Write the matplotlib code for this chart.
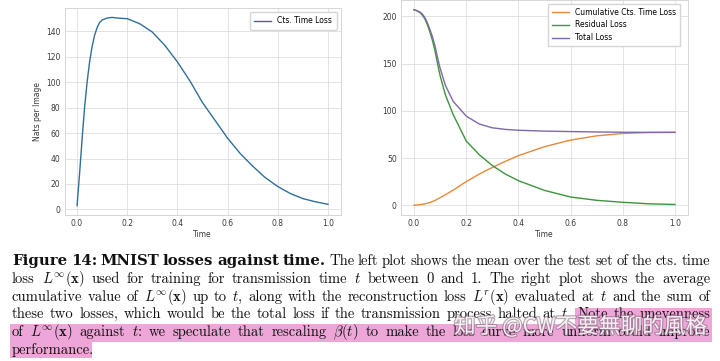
import numpy as np
import matplotlib
matplotlib.use("Agg")
import matplotlib.pyplot as plt
import matplotlib.patheffects as pe
from matplotlib.patches import Rectangle

# ---------------- data ----------------
t_left = [0.0, 0.01, 0.02, 0.03, 0.04, 0.05, 0.06, 0.07, 0.08, 0.09, 0.10, 0.12,
          0.14, 0.16, 0.18, 0.20, 0.25, 0.30, 0.35, 0.40, 0.45, 0.50, 0.55, 0.60,
          0.65, 0.70, 0.75, 0.80, 0.85, 0.90, 0.95, 1.0]
cts_loss = [3, 28, 55, 80, 100, 116, 128, 137, 143, 147, 149, 150.5,
            151, 150.5, 150.2, 150, 146, 139.5, 129, 116, 101, 84, 70, 56,
            44, 34, 25, 18, 12.5, 8.5, 6, 4]

t_right = [0.0, 0.01, 0.02, 0.03, 0.04, 0.05, 0.06, 0.07, 0.08, 0.09, 0.10, 0.12,
           0.15, 0.20, 0.25, 0.30, 0.35, 0.40, 0.50, 0.60, 0.70, 0.80, 0.90, 1.0]
cumulative = [0, 0.2, 0.5, 0.9, 1.4, 2, 2.8, 3.8, 5, 6.5, 8, 11,
              16, 25, 33, 40, 46.5, 52.5, 62, 69, 73.5, 76, 77, 77.3]
residual = [207, 206, 204.5, 202, 198, 192, 184, 175, 164, 150, 137, 117,
            96, 68, 53.5, 42, 33, 26, 15.7, 8.7, 5.2, 3.1, 1.5, 0.8]
total = [207, 206.2, 205, 203, 199.4, 194, 186.8, 178.8, 169, 156.5, 145, 127,
         110, 94.4, 86, 82, 80.3, 79.4, 78.5, 78, 77.6, 77.3, 77.2, 77.1]

left_legend = ["Cts. Time Loss"]
right_legend = ["Cumulative Cts. Time Loss", "Residual Loss", "Total Loss"]
xlabel = "Time"
ylabel_left = "Nats per Image"

caption_lines = [
    [("Figure", "b"), ("14:", "b"), ("MNIST", "b"), ("losses", "b"), ("against", "b"), ("time.", "b"),
     ("The", "r"), ("left", "r"), ("plot", "r"), ("shows", "r"), ("the", "r"), ("mean", "r"), ("over", "r"),
     ("the", "r"), ("test", "r"), ("set", "r"), ("of", "r"), ("the", "r"), ("cts.", "r"), ("time", "r")],
    "loss $L^\\infty(\\mathbf{x})$ used for training for transmission time $t$ between 0 and 1. The right plot shows the average",
    "cumulative value of $L^\\infty(\\mathbf{x})$ up to $t$, along with the reconstruction loss $L^r(\\mathbf{x})$ evaluated at $t$ and the sum of",
    "these two losses, which would be the total loss if the transmission process halted at $t$. Note the unevenness",
    "of $L^\\infty(\\mathbf{x})$ against $t$: we speculate that rescaling $\\beta(t)$ to make the loss curve more uniform could improve",
    "performance.",
]
watermark = "知乎 @CW不要無聊的風格"

# ---------------- style ----------------
plt.rcParams["mathtext.fontset"] = "cm"
W, H = 720, 361
fig = plt.figure(figsize=(W / 100, H / 100), dpi=100)
fig.patch.set_facecolor("white")

def px_axes(x0, y0, x1, y1):
    return fig.add_axes([x0 / W, 1 - y1 / H, (x1 - x0) / W, (y1 - y0) / H])

ax1 = px_axes(64.5, 8, 340.5, 215)
ax2 = px_axes(401, 0, 688, 215)

tick_fs = 5.5
for ax in (ax1, ax2):
    ax.set_facecolor("white")
    ax.grid(True, color="#dedede", linewidth=0.6)
    ax.set_axisbelow(True)
    for s in ax.spines.values():
        s.set_color("#d6d6d6")
        s.set_linewidth(0.7)
    ax.tick_params(length=0, labelsize=tick_fs, labelcolor="#3a3a3a", pad=3)
    ax.set_xticks([0.0, 0.2, 0.4, 0.6, 0.8, 1.0])
    ax.set_xlabel(xlabel, fontsize=tick_fs, color="#3a3a3a", labelpad=1.5)

ax1.plot(t_left, cts_loss, color="#2f6f98", lw=1.0, label=left_legend[0])
ax1.set_ylabel(ylabel_left, fontsize=tick_fs, color="#3a3a3a", labelpad=3)
ax1.set_yticks(np.arange(0, 141, 20))
ax1.legend(loc="upper right", fontsize=tick_fs, frameon=True, edgecolor="#d6d6d6",
           fancybox=True, framealpha=1, handlelength=2.2, borderpad=0.6)

ax2.plot(t_right, cumulative, color="#e8883a", lw=1.0, label=right_legend[0])
ax2.plot(t_right, residual, color="#3c943c", lw=1.0, label=right_legend[1])
ax2.plot(t_right, total, color="#8068a8", lw=1.0, label=right_legend[2])
ax2.set_yticks([0, 50, 100, 150, 200])
ax2.legend(loc="upper right", fontsize=tick_fs, frameon=True, edgecolor="#d6d6d6",
           fancybox=False, framealpha=1, handlelength=2.2, borderpad=0.5,
           bbox_to_anchor=(0.985, 1.0))

# ---------------- caption ----------------
fig.canvas.draw()
renderer = fig.canvas.get_renderer()
left_x, right_x = 12, 710
baselines = [265, 282.8, 300.6, 318.4, 336.2, 354]
pink = "#eea6d8"
bold_target = 323.0   # px span of the bold lead-in in the reference

def tokenize(line):
    if isinstance(line, str):
        return [(w, "r") for w in line.split(" ")]
    return line

def make_texts(li, tokens, fs, bfs):
    out = []
    for w, style in tokens:
        if style == "b":
            kw = dict(family="DejaVu Serif", weight="bold", fontsize=bfs)
        else:
            kw = dict(family="cmr10", fontsize=fs)
        out.append(fig.text(0, 1 - baselines[li] / H, w, va="baseline", ha="left",
                            color="#111111", zorder=3, **kw))
    return out

fs0 = 10.0
space0 = 0.333 * fs0 * 100 / 72
# bold size so that the lead-in spans bold_target px
btoks = [tk for tk in caption_lines[0] if tk[1] == "b"]
bts = make_texts(0, btoks, fs0, fs0)
bw = sum(t.get_window_extent(renderer).width for t in bts) + 0.36 * fs0 * 100 / 72 * (len(bts) - 1)
for t in bts:
    t.remove()
bold_fs = fs0 * bold_target / bw

naturals = []
for li, line in enumerate(caption_lines[1:-1], start=1):
    tk = tokenize(line)
    ts = make_texts(li, tk, fs0, bold_fs)
    wsum = sum(t.get_window_extent(renderer).width for t in ts)
    naturals.append(wsum + space0 * (len(ts) - 1))
    for t in ts:
        t.remove()
cap_fs = fs0 * (right_x - left_x) / max(naturals) * 0.985

word_pos = {}
for li, line in enumerate(caption_lines):
    tokens = tokenize(line)
    texts = make_texts(li, tokens, cap_fs, bold_fs)
    widths = [tx.get_window_extent(renderer).width for tx in texts]
    if li == len(caption_lines) - 1:
        gap = 0.333 * cap_fs * 100 / 72
    else:
        gap = (right_x - left_x - sum(widths)) / (len(texts) - 1)
    x = left_x
    for (w, _), tx, wd in zip(tokens, texts, widths):
        tx.set_x(x / W)
        word_pos.setdefault(li, []).append((w, x, wd))
        x += wd + gap

# highlights
def hl(x0, x1, y0, y1):
    fig.patches.append(Rectangle((x0 / W, 1 - y1 / H), (x1 - x0) / W, (y1 - y0) / H,
                                 transform=fig.transFigure, facecolor=pink,
                                 edgecolor="none", zorder=1))

note_x = [p[1] for p in word_pos[3] if p[0] == "Note"][0]
hl(note_x - 2, 712, 308, 324)
hl(10, 712, 324, 341.5)
perf = word_pos[5][0]
hl(10, perf[1] + perf[2] - 2, 341.5, 358)

fig.text(454 / W, 1 - 327 / H, watermark, family=["Noto Sans CJK SC", "DejaVu Sans"],
         fontsize=15.6, color="white", alpha=0.85, va="center", ha="left", zorder=4,
         path_effects=[pe.withStroke(linewidth=1.6, foreground="#8a6a80", alpha=0.6)])

fig.savefig("out.png", dpi=100, facecolor="white")
